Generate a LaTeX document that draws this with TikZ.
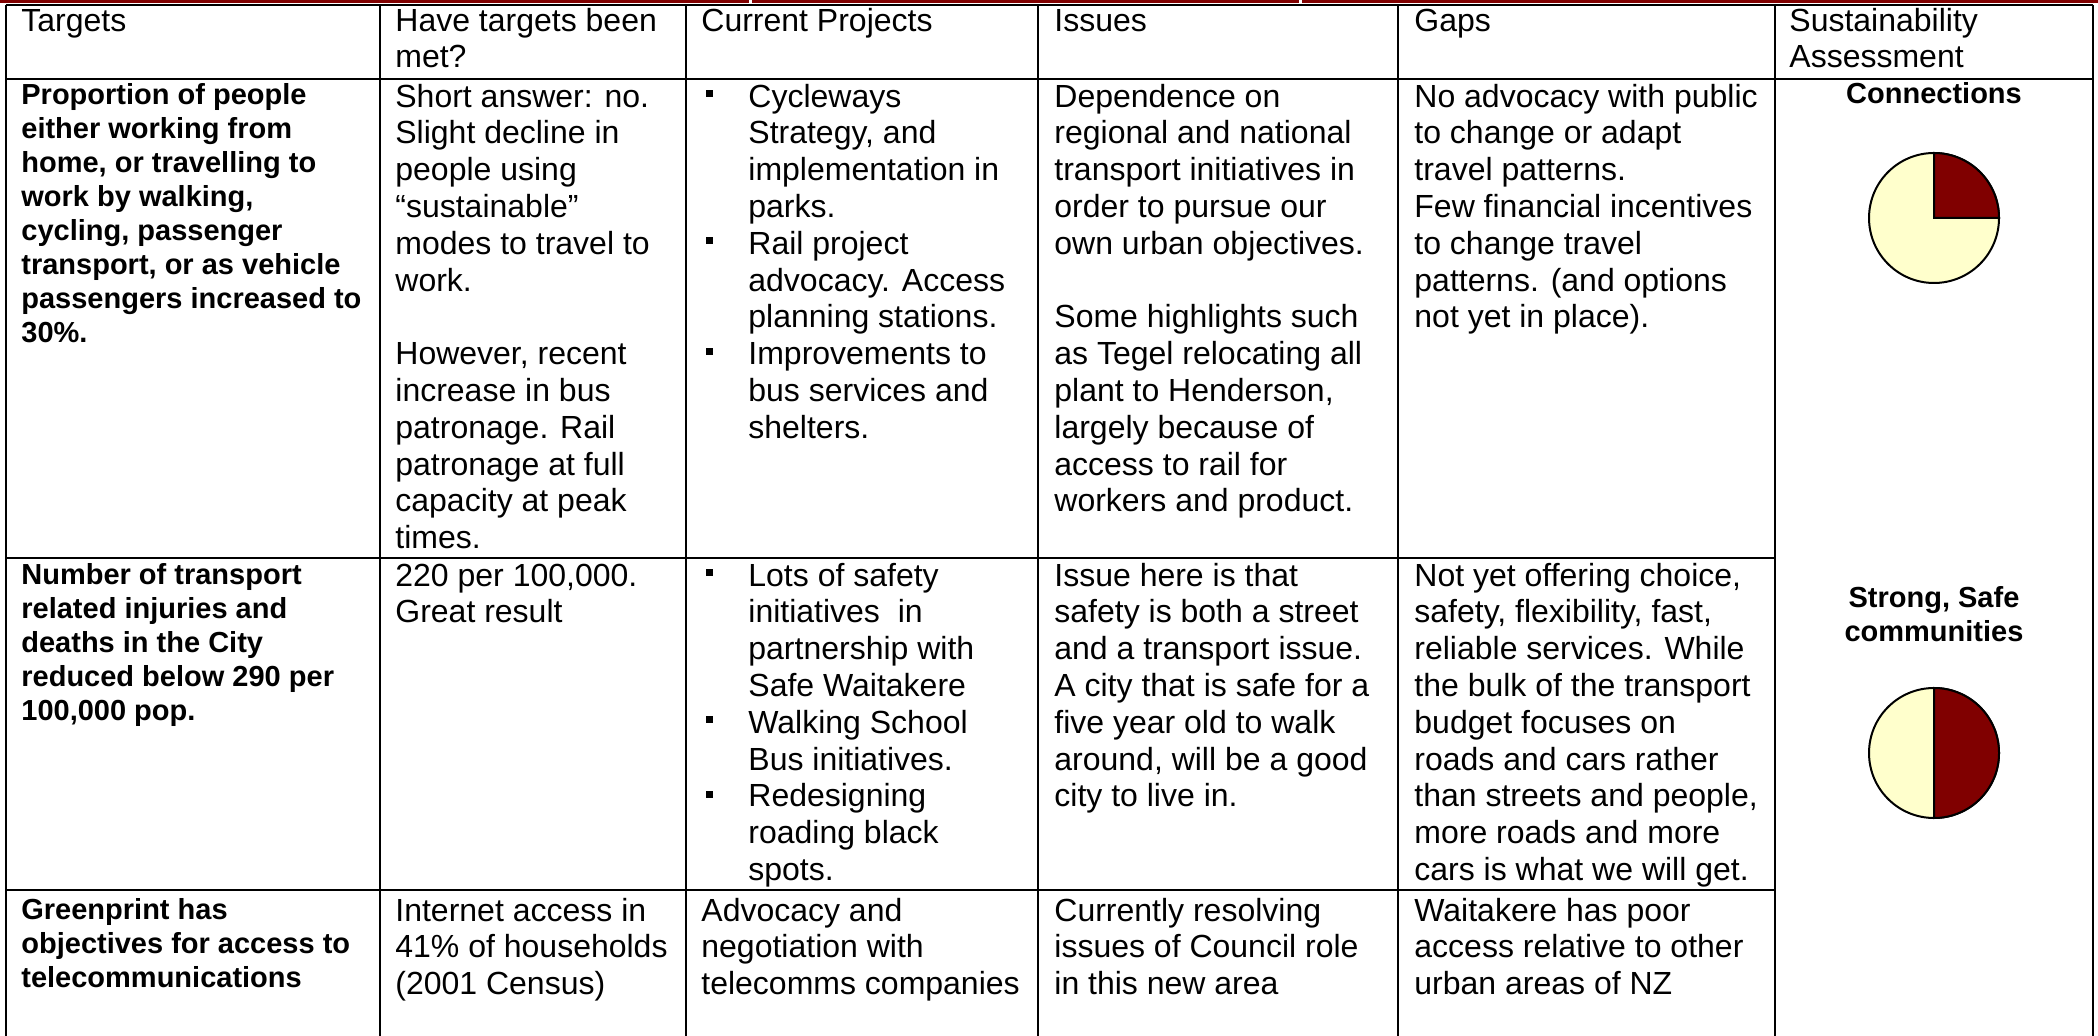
\documentclass[tikz,border=0pt]{standalone}
\usepackage{fontspec}
\setmainfont{Liberation Sans}
\definecolor{titlered}{RGB}{128,0,0}
\definecolor{piered}{RGB}{128,0,0}
\definecolor{pieyellow}{RGB}{255,255,204}
\tikzset{
    %Define style for table text
    cell/.style={
           anchor=north west,
           inner sep=0pt,
           align=left,
           font=\fontsize{16}{18.4}\selectfont},
    target/.style={
           cell,
           font=\fontsize{14.5}{17}\selectfont\bfseries},
    assess/.style={
           inner sep=0pt,
           align=center,
           font=\fontsize{14.5}{17}\selectfont\bfseries},
    %Define style for list bullets
    bullet/.style={
           rectangle,
           fill=black,
           inner sep=0pt,
           minimum size=3.5pt},
    %Define style for table rules
    gridline/.style={
           draw=black,
           line width=1pt},
    slice/.style={
           draw=black,
           line width=1pt}
}

\begin{document}
\begin{tikzpicture}[x=0.5pt,y=-0.5pt]
\useasboundingbox (0,0) rectangle (2098,1036);

 %title bar
\fill[titlered] (0,0) rectangle (2098,3.5);
\fill[white] (749,0) rectangle (752,3.5);
\fill[white] (1299,0) rectangle (1302,3.5);

 %table rules
\draw[gridline] (6,5) -- (2093,5);
\draw[gridline, line width=1.3pt] (6,79) -- (2093,79);
\draw[gridline] (6,558) -- (1775,558);
\draw[gridline] (6,890) -- (1775,890);
\foreach \x in {6,380,686,1038,1398,1775,2093}
    \draw[gridline] (\x,5) -- (\x,1036);

 %header
\node[cell] (hTarget) at (21,5) {\strut Targets};
\node[cell] (hMet) at (395,5) {\strut Have targets been\\met?};
\node[cell] (hProj) at (701,5) {\strut Current Projects};
\node[cell] (hIssue) at (1054,5) {\strut Issues};
\node[cell] (hGap) at (1414,5) {\strut Gaps};
\node[cell] (hAssess) at (1789,5) {\strut Sustainability\\Assessment};

 %row 1
\node[target] (tTravel) at (21,80) {\strut Proportion of people\\either working from\\home, or travelling to\\work by walking,\\cycling, passenger\\transport, or as vehicle\\passengers increased to\\30\%.};
\node[cell] (mTravel) at (395,81) {\strut Short answer: no.\\Slight decline in\\people using\\“sustainable”\\modes to travel to\\work.\\[18.4pt]However, recent\\increase in bus\\patronage. Rail\\patronage at full\\capacity at peak\\times.};
\node[cell] (pTravel) at (748,81) {\strut Cycleways\\Strategy, and\\implementation in\\parks.\\Rail project\\advocacy. Access\\planning stations.\\Improvements to\\bus services and\\shelters.};
\node[cell] (iTravel) at (1054,81) {\strut Dependence on\\regional and national\\transport initiatives in\\order to pursue our\\own urban objectives.\\[18.4pt]Some highlights such\\as Tegel relocating all\\plant to Henderson,\\largely because of\\access to rail for\\workers and product.};
\node[cell] (gTravel) at (1414,81) {\strut No advocacy with public\\to change or adapt\\travel patterns.\\Few financial incentives\\to change travel\\patterns. (and options\\not yet in place).};
\node[bullet] (b1) at (709,94) {};
\node[bullet] (b2) at (709,241) {};
\node[bullet] (b3) at (709,352) {};

 %row 2
\node[target] (tSafe) at (21,560) {\strut Number of transport\\related injuries and\\deaths in the City\\reduced below 290 per\\100,000 pop.};
\node[cell] (mSafe) at (395,560) {\strut 220 per 100,000.\\Great result};
\node[cell] (pSafe) at (748,560) {\strut Lots of safety\\initiatives~ in\\partnership with\\Safe Waitakere\\Walking School\\Bus initiatives.\\Redesigning\\roading black\\spots.};
\node[cell] (iSafe) at (1054,560) {\strut Issue here is that\\safety is both a street\\and a transport issue.\\A city that is safe for a\\five year old to walk\\around, will be a good\\city to live in.};
\node[cell] (gSafe) at (1414,560) {\strut Not yet offering choice,\\safety, flexibility, fast,\\reliable services. While\\the bulk of the transport\\budget focuses on\\roads and cars rather\\than streets and people,\\more roads and more\\cars is what we will get.};
\node[bullet] (b4) at (709,573) {};
\node[bullet] (b5) at (709,720) {};
\node[bullet] (b6) at (709,794) {};

 %row 3
\node[target] (tTele) at (21,895) {\strut Greenprint has\\objectives for access to\\telecommunications};
\node[cell] (mTele) at (395,895) {\strut Internet access in\\41\% of households\\(2001 Census)};
\node[cell] (pTele) at (701,895) {\strut Advocacy and\\negotiation with\\telecomms companies};
\node[cell] (iTele) at (1054,895) {\strut Currently resolving\\issues of Council role\\in this new area};
\node[cell] (gTele) at (1414,895) {\strut Waitakere has poor\\access relative to other\\urban areas of NZ};

 %assessment column
\node[assess, anchor=base] (conn) at (1934,104) {Connections};
\coordinate (pie1) at (1934,218);
\filldraw[slice, fill=pieyellow] (pie1) circle[radius=65];
\filldraw[slice, fill=piered] (pie1) -- ++(65,0) arc[start angle=0, end angle=-90, radius=65] -- cycle;

\node[assess, anchor=north] (safe) at (1934,583) {\strut Strong, Safe\\communities};
\coordinate (pie2) at (1934,753);
\filldraw[slice, fill=pieyellow] (pie2) circle[radius=65];
\filldraw[slice, fill=piered] (pie2) -- ++(0,-65) arc[start angle=-90, end angle=90, radius=65] -- cycle;

\end{tikzpicture}
\end{document}
